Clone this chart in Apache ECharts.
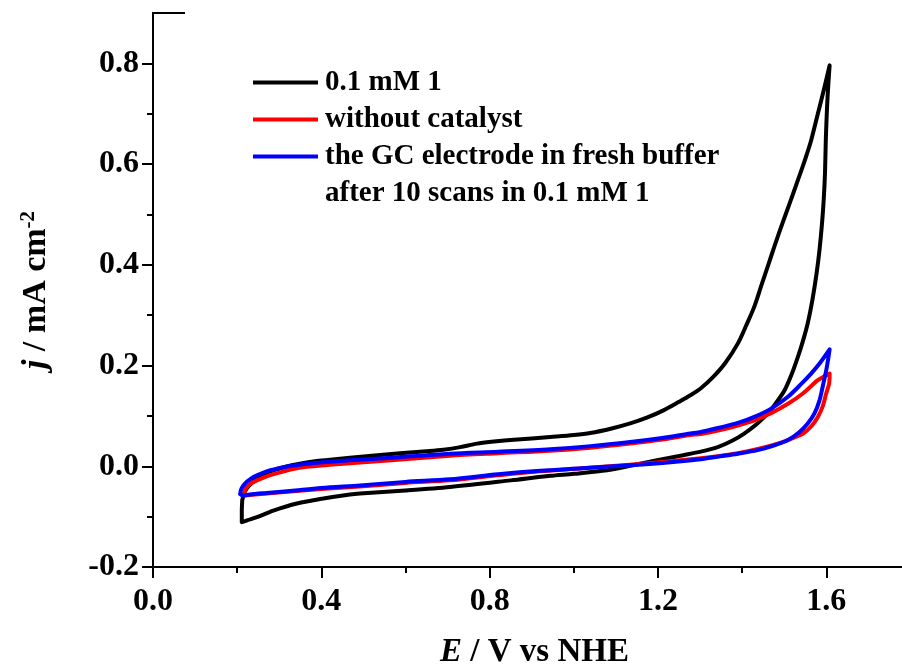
<!DOCTYPE html>
<html>
<head>
<meta charset="utf-8">
<script src="https://cdn.jsdelivr.net/npm/echarts@6/dist/echarts.min.js"></script>
<style>
  html, body { margin: 0; padding: 0; background: #ffffff; }
  #chart { width: 902px; height: 666px; }
</style>
</head>
<body>
<div id="chart"></div>
<script>
// Cyclic voltammograms: potential E (V vs NHE) against current density j (mA cm^-2).
// Each loop runs from 0.2 V up to 1.6 V (anodic branch) and back (cathodic branch).

const seriesNames = [
  '0.1 mM 1',
  'without catalyst',
  'the GC electrode in fresh buffer'
];
const legendSecondLine = 'after 10 scans in 0.1 mM 1';

const xMajorTicks = [0.0, 0.4, 0.8, 1.2, 1.6];
const xMinorTicks = [0.2, 0.6, 1.0, 1.4];
const yMajorTicks = [-0.2, 0.0, 0.2, 0.4, 0.6, 0.8];
const yMinorTicks = [-0.1, 0.1, 0.3, 0.5, 0.7];

// 0.1 mM 1
const catalystCurve = [
  [0.212, -0.068], [0.216, -0.055], [0.223, -0.044], [0.235, -0.033], [0.247, -0.024],
  [0.265, -0.015], [0.286, -0.008], [0.315, -0.001], [0.349, 0.005], [0.385, 0.010],
  [0.421, 0.013], [0.468, 0.017], [0.520, 0.021], [0.587, 0.026], [0.650, 0.030],
  [0.690, 0.033], [0.730, 0.038], [0.770, 0.045], [0.810, 0.049], [0.849, 0.052],
  [0.900, 0.055], [0.944, 0.058], [1.000, 0.062], [1.039, 0.066], [1.090, 0.075],
  [1.134, 0.085], [1.175, 0.097], [1.213, 0.111], [1.250, 0.128], [1.277, 0.141],
  [1.302, 0.155], [1.332, 0.178], [1.360, 0.205], [1.390, 0.244], [1.410, 0.280],
  [1.429, 0.317], [1.445, 0.357], [1.461, 0.397], [1.477, 0.437], [1.493, 0.476],
  [1.513, 0.522], [1.533, 0.569], [1.550, 0.610], [1.564, 0.647], [1.580, 0.700],
  [1.595, 0.750], [1.608, 0.796],
  [1.605, 0.760], [1.602, 0.715], [1.599, 0.650], [1.597, 0.582], [1.594, 0.530],
  [1.590, 0.483], [1.584, 0.430], [1.577, 0.383], [1.567, 0.330], [1.556, 0.284],
  [1.545, 0.250], [1.533, 0.218], [1.518, 0.183], [1.501, 0.151], [1.480, 0.125],
  [1.461, 0.105], [1.435, 0.084], [1.405, 0.065], [1.375, 0.050], [1.342, 0.038],
  [1.302, 0.029], [1.260, 0.022], [1.198, 0.012], [1.140, 0.002], [1.079, -0.008],
  [1.000, -0.015], [0.944, -0.019], [0.850, -0.028], [0.706, -0.041], [0.600, -0.048],
  [0.492, -0.054], [0.468, -0.056], [0.405, -0.064], [0.342, -0.074], [0.286, -0.088],
  [0.247, -0.101], [0.225, -0.107], [0.211, -0.111], [0.211, -0.090], [0.212, -0.068]
];

// without catalyst
const blankCurve = [
  [0.216, -0.056], [0.222, -0.042], [0.233, -0.034], [0.247, -0.028], [0.270, -0.020],
  [0.294, -0.014], [0.330, -0.006], [0.365, -0.001], [0.420, 0.003], [0.468, 0.006],
  [0.550, 0.011], [0.706, 0.021], [0.820, 0.026], [0.944, 0.031], [1.040, 0.037],
  [1.134, 0.045], [1.210, 0.053], [1.277, 0.062], [1.302, 0.064], [1.348, 0.072],
  [1.390, 0.081], [1.429, 0.091], [1.470, 0.106], [1.509, 0.124], [1.545, 0.145],
  [1.580, 0.171], [1.598, 0.180], [1.608, 0.184],
  [1.607, 0.165], [1.600, 0.145], [1.592, 0.120], [1.580, 0.098], [1.565, 0.080],
  [1.545, 0.065], [1.515, 0.054], [1.485, 0.045], [1.440, 0.035], [1.390, 0.026],
  [1.342, 0.020], [1.302, 0.016], [1.230, 0.010], [1.134, 0.003], [1.020, -0.004],
  [0.920, -0.010], [0.820, -0.018], [0.706, -0.028], [0.600, -0.033], [0.492, -0.040],
  [0.400, -0.045], [0.326, -0.050], [0.270, -0.054], [0.230, -0.057], [0.216, -0.058],
  [0.216, -0.056]
];

// the GC electrode in fresh buffer after 10 scans in 0.1 mM 1
const electrodeCurve = [
  [0.207, -0.055], [0.210, -0.045], [0.219, -0.034], [0.232, -0.025], [0.247, -0.018],
  [0.270, -0.010], [0.294, -0.005], [0.330, 0.001], [0.365, 0.005], [0.420, 0.009],
  [0.468, 0.012], [0.550, 0.016], [0.706, 0.025], [0.820, 0.029], [0.944, 0.034],
  [1.040, 0.040], [1.134, 0.048], [1.210, 0.056], [1.277, 0.065], [1.302, 0.068],
  [1.348, 0.077], [1.390, 0.086], [1.429, 0.098], [1.470, 0.115], [1.509, 0.138],
  [1.540, 0.163], [1.564, 0.184], [1.585, 0.205], [1.608, 0.232],
  [1.604, 0.210], [1.600, 0.191], [1.592, 0.160], [1.584, 0.131], [1.572, 0.105],
  [1.556, 0.085], [1.535, 0.067], [1.509, 0.052], [1.475, 0.041], [1.437, 0.032],
  [1.390, 0.025], [1.342, 0.019], [1.302, 0.014], [1.230, 0.008], [1.134, 0.002],
  [1.020, -0.004], [0.920, -0.009], [0.820, -0.016], [0.706, -0.026], [0.600, -0.031],
  [0.492, -0.038], [0.400, -0.043], [0.326, -0.049], [0.270, -0.053], [0.230, -0.056],
  [0.213, -0.058], [0.207, -0.055]
];

const curves = [catalystCurve, blankCurve, electrodeCurve];
const colors = ['#000000', '#ff0000', '#0000ff'];

const FONT = "'Liberation Serif', 'Times New Roman', serif";
const axisLineStyle = { color: '#000', width: 2 };

const chart = echarts.init(document.getElementById('chart'), null, { renderer: 'canvas' });

const baseLabel = {
  fontFamily: FONT, fontWeight: 'bold', fontSize: 32, color: '#000'
};

const option = {
  backgroundColor: '#ffffff',
  animation: false,
  grid: { left: 153, right: 0, top: 13, bottom: 99, outerBoundsMode: 'none', containLabel: false },
  legend: {
    orient: 'vertical',
    left: 253,
    top: 68,
    padding: 0,
    itemWidth: 65,
    itemHeight: 4,
    itemGap: 8,
    icon: 'rect',
    data: seriesNames,
    textStyle: { fontFamily: FONT, fontWeight: 'bold', fontSize: 29, color: '#000', padding: [0, 0, 0, 2] },
    selectedMode: false
  },
  xAxis: [
    {
      type: 'value', min: 0, max: 1.78,
      name: '{i|E} / V vs NHE',
      nameLocation: 'middle', nameGap: 69,
      nameTextStyle: {
        fontFamily: FONT, fontWeight: 'bold', fontSize: 33, color: '#000',
        padding: [0, 0, 0, 14],
        rich: { i: { fontFamily: FONT, fontWeight: 'bold', fontStyle: 'italic', fontSize: 33, color: '#000' } }
      },
      axisLine: { show: true, onZero: false, lineStyle: axisLineStyle },
      axisTick: { show: true, inside: false, length: 11, lineStyle: axisLineStyle, customValues: xMajorTicks },
      axisLabel: Object.assign({ margin: 19, customValues: xMajorTicks, formatter: v => v.toFixed(1) }, baseLabel),
      splitLine: { show: false }
    },
    {
      type: 'value', min: 0, max: 1.78, position: 'bottom',
      axisLine: { show: false, onZero: false },
      axisTick: { show: true, inside: false, length: 6, lineStyle: axisLineStyle, customValues: xMinorTicks },
      axisLabel: { show: false },
      splitLine: { show: false }
    }
  ],
  yAxis: [
    {
      type: 'value', min: -0.2, max: 0.9,
      name: '{i|j} / mA cm{s|-2}',
      nameLocation: 'middle', nameGap: 98, nameRotate: 90,
      nameTextStyle: {
        fontFamily: FONT, fontWeight: 'bold', fontSize: 34, color: '#000',
        rich: {
          i: { fontFamily: FONT, fontWeight: 'bold', fontStyle: 'italic', fontSize: 34, color: '#000' },
          s: { fontFamily: FONT, fontWeight: 'bold', fontSize: 21, color: '#000', verticalAlign: 'top', padding: [0, 0, 16, 0] }
        }
      },
      axisLine: { show: true, onZero: false, lineStyle: axisLineStyle },
      axisTick: { show: true, inside: false, length: 11, lineStyle: axisLineStyle, customValues: yMajorTicks },
      axisLabel: Object.assign({ margin: 14, customValues: yMajorTicks, formatter: v => v.toFixed(1) }, baseLabel),
      splitLine: { show: false }
    },
    {
      type: 'value', min: -0.2, max: 0.9, position: 'left',
      axisLine: { show: false, onZero: false },
      axisTick: { show: true, inside: false, length: 6, lineStyle: axisLineStyle, customValues: yMinorTicks },
      axisLabel: { show: false },
      splitLine: { show: false }
    }
  ],
  graphic: [
    {
      // top edge stub of the frame
      type: 'line', z: 10,
      shape: { x1: 152, y1: 13, x2: 185, y2: 13 },
      style: { stroke: '#000', lineWidth: 2 }
    },
    {
      type: 'text', z: 10,
      left: 325, top: 179,
      style: { text: legendSecondLine, fontFamily: FONT, fontWeight: 'bold', fontSize: 29, fill: '#000' }
    }
  ],
  series: curves.map((data, k) => ({
    name: seriesNames[k],
    type: 'line',
    data: data,
    smooth: 0.3,
    showSymbol: false,
    symbol: 'none',
    clip: true,
    lineStyle: { color: colors[k], width: 4, cap: 'round', join: 'round' },
    itemStyle: { color: colors[k] }
  }))
};

chart.setOption(option);
</script>
</body>
</html>
